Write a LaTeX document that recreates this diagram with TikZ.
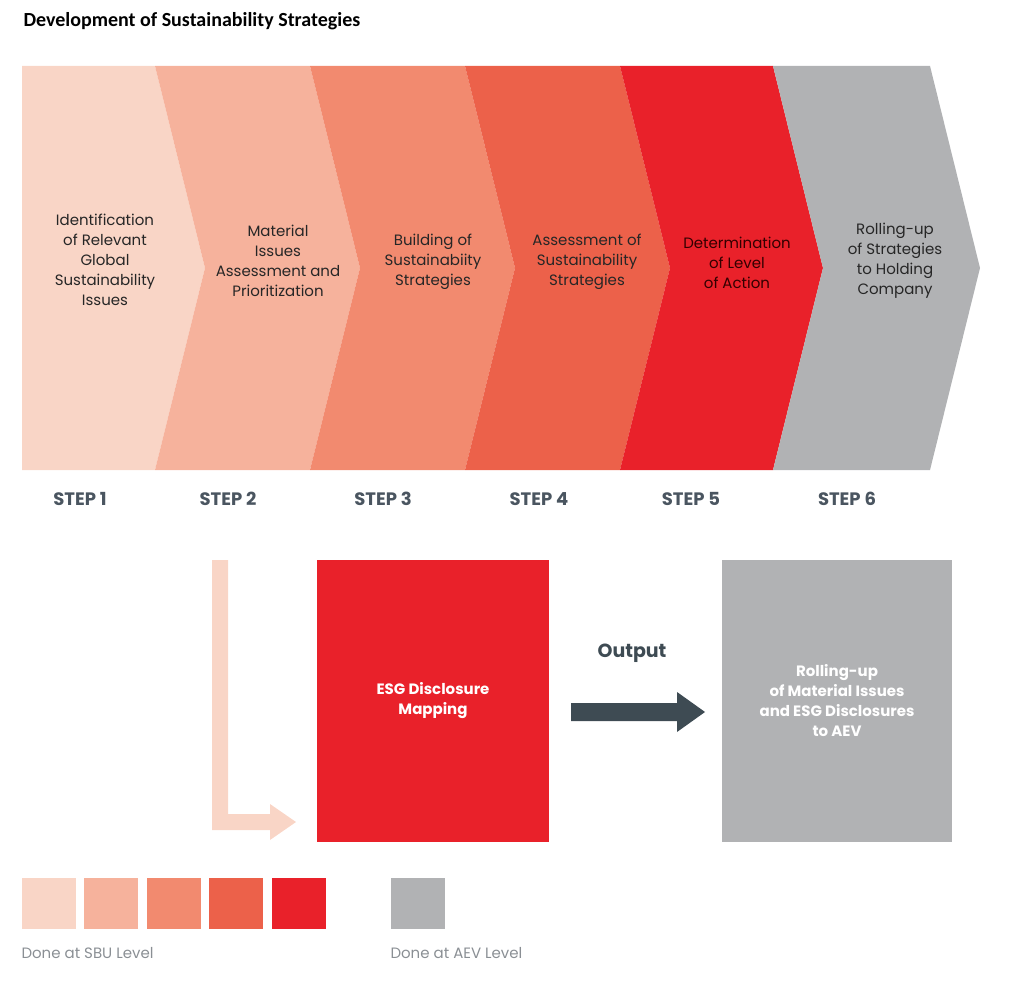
\documentclass[tikz,border=0pt]{standalone}
\usepackage{fontspec}
\setmainfont{Poppins}
\newfontfamily\titlefont{Carlito}
\usetikzlibrary{positioning}
\definecolor{stepa}{HTML}{F9D5C6}
\definecolor{stepb}{HTML}{F6B29C}
\definecolor{stepc}{HTML}{F28A6F}
\definecolor{stepd}{HTML}{EC614A}
\definecolor{stepe}{HTML}{E9212A}
\definecolor{stepf}{HTML}{B1B2B4}
\definecolor{steplbl}{HTML}{4A5560}
\definecolor{arrowdark}{HTML}{3E4B53}
\definecolor{legendtxt}{HTML}{8A8F94}
\tikzset{
  steptext/.style={align=center, font=\fontsize{15}{20}\selectfont, text=black!85},
  steplabel/.style={font=\fontsize{18}{20}\selectfont\bfseries, text=steplbl},
  legendbox/.style={minimum width=54pt, minimum height=51pt, inner sep=0pt},
  legendtext/.style={font=\fontsize{15}{18}\selectfont, text=legendtxt, anchor=west}
}
\begin{document}
\begin{tikzpicture}[x=1pt,y=-1pt]
	\useasboundingbox (0,0) rectangle (1024,984);

	\node[anchor=west, font=\titlefont\fontsize{20}{24}\selectfont\bfseries](title) at (20,21){Development of Sustainability Strategies};

	\fill[stepa](22,66) -- (155,66) -- (205,268) -- (155,470) -- (22,470) -- cycle;
	\fill[stepb](155,66) -- (310,66) -- (360,268) -- (310,470) -- (155,470) -- (205,268) -- cycle;
	\fill[stepc](310,66) -- (465,66) -- (515,268) -- (465,470) -- (310,470) -- (360,268) -- cycle;
	\fill[stepd](465,66) -- (620,66) -- (670,268) -- (620,470) -- (465,470) -- (515,268) -- cycle;
	\fill[stepe](620,66) -- (773,66) -- (823,268) -- (773,470) -- (620,470) -- (670,268) -- cycle;
	\fill[stepf](773,66) -- (930,66) -- (980,268) -- (930,470) -- (773,470) -- (823,268) -- cycle;

	\node[steptext](stepOneTxt) at (105,260){Identification\\of Relevant\\Global\\Sustainability\\Issues};
	\node[steptext](stepTwoTxt) at (278,261){Material\\Issues\\Assessment and\\Prioritization};
	\node[steptext](stepThreeTxt) at (433,262){Building of\\Sustainabiity\\Strategies};
	\node[steptext](stepFourTxt) at (587,262){Assessment of\\Sustainability\\Strategies};
	\node[steptext, text=black!80!red](stepFiveTxt) at (737,263){Determination\\of Level\\of Action};
	\node[steptext](stepSixTxt) at (895,261){Rolling-up\\of Strategies\\to Holding\\Company};

	\node[steplabel](stepOne) at (80,499){STEP 1};
	\node[steplabel](stepTwo) at (228,499){STEP 2};
	\node[steplabel](stepThree) at (383,499){STEP 3};
	\node[steplabel](stepFour) at (539,499){STEP 4};
	\node[steplabel](stepFive) at (691,499){STEP 5};
	\node[steplabel](stepSix) at (847,499){STEP 6};

	% flow from step 2 into the mapping box
	\fill[stepa](212,560) -- (228,560) -- (228,814) -- (270,814) -- (270,804) -- (296,822) -- (270,840) -- (270,830) -- (212,830) -- cycle;

	\node[rectangle, fill=stepe, minimum width=232pt, minimum height=282pt, inner sep=0pt, text=white, align=center, font=\fontsize{15}{20}\selectfont\bfseries](esgMap) at (433,701){ESG Disclosure\\Mapping};
	\node[rectangle, fill=stepf, minimum width=230pt, minimum height=282pt, inner sep=0pt, text=white, align=center, font=\fontsize{15}{20}\selectfont\bfseries](rollUp) at (837,701){Rolling-up\\of Material Issues\\and ESG Disclosures\\to AEV};

	\node[font=\fontsize{19}{22}\selectfont\bfseries, text=arrowdark](output) at (632,653){Output};
	\fill[arrowdark](571,703) -- (677,703) -- (677,692) -- (705,712) -- (677,732) -- (677,721) -- (571,721) -- cycle;

	\node[legendbox, fill=stepa](legA) at (49,903){};
	\node[legendbox, fill=stepb, right=8pt of legA](legB){};
	\node[legendbox, fill=stepc, right=8pt of legB](legC){};
	\node[legendbox, fill=stepd, right=8pt of legC](legD){};
	\node[legendbox, fill=stepe, right=8pt of legD](legE){};
	\node[legendbox, fill=stepf](legF) at (418,903){};

	\node[legendtext](sbuLbl) at (18,953){Done at SBU Level};
	\node[legendtext](aevLbl) at (387,953){Done at AEV Level};
\end{tikzpicture}
\end{document}
